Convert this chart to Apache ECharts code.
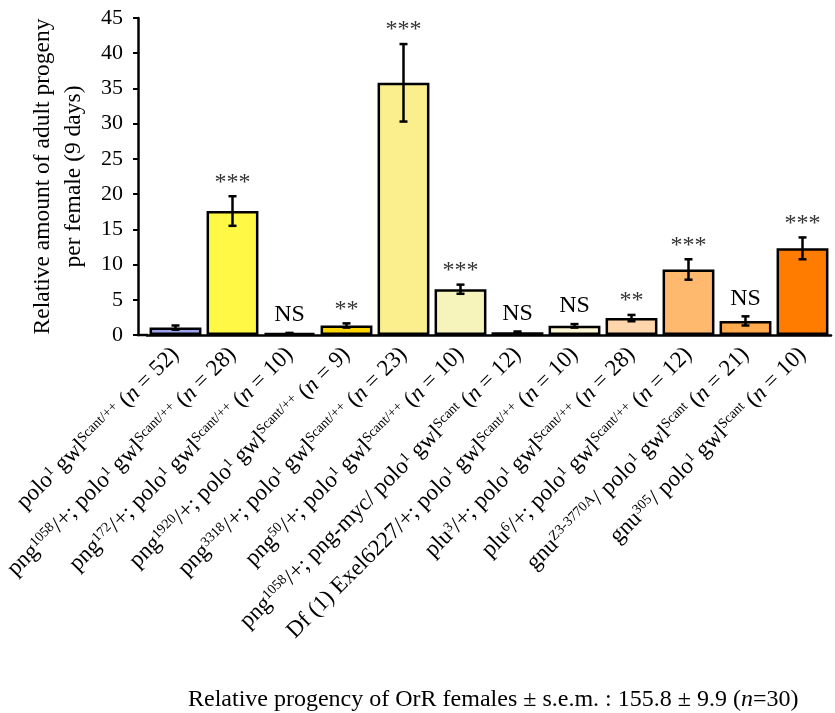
<!DOCTYPE html>
<html><head><meta charset="utf-8">
<script src="https://cdn.jsdelivr.net/npm/echarts@6/dist/echarts.min.js"></script>
<style>html,body{margin:0;padding:0;background:#fff}#c{width:835px;height:713px}</style>
</head><body><div id="c"></div>
<script>
const categories = [
 'polo{s|1} gwl{s|Scant/++} ({i|n} = 52)',
 'png{s|1058}/+; polo{s|1} gwl{s|Scant/++} ({i|n} = 28)',
 'png{s|172}/+; polo{s|1} gwl{s|Scant/++} ({i|n} = 10)',
 'png{s|1920}/+; polo{s|1} gwl{s|Scant/++} ({i|n} = 9)',
 'png{s|3318}/+; polo{s|1} gwl{s|Scant/++} ({i|n} = 23)',
 'png{s|50}/+; polo{s|1} gwl{s|Scant/++} ({i|n} = 10)',
 'png{s|1058}/+; png-myc/ polo{s|1} gwl{s|Scant} ({i|n} = 12)',
 'Df (1) Exel6227/+; polo{s|1} gwl{s|Scant/++} ({i|n} = 10)',
 'plu{s|3}/+; polo{s|1} gwl{s|Scant/++} ({i|n} = 28)',
 'plu{s|6}/+; polo{s|1} gwl{s|Scant/++} ({i|n} = 12)',
 'gnu{s|Z3-3770A}/ polo{s|1} gwl{s|Scant} ({i|n} = 21)',
 'gnu{s|305}/ polo{s|1} gwl{s|Scant} ({i|n} = 10)'
];
const values = [1.05, 17.6, 0.25, 1.35, 35.8, 6.5, 0.4, 1.3, 2.4, 9.3, 2.0, 12.3];
const sems   = [0.3, 2.1, 0.05, 0.3, 5.5, 0.65, 0.1, 0.25, 0.45, 1.45, 0.65, 1.55];
const signif = ['', '***', 'NS', '**', '***', '***', 'NS', 'NS', '**', '***', 'NS', '***'];
const colors = ['#9ea5f0', '#fff845', '#ffffff', '#ffd500', '#fbee8c', '#f6f4bb',
                '#ffffff', '#fdf6d2', '#ffd6ab', '#ffb96e', '#ffab4d', '#ff7c00'];
const yTicks = {min: 0, max: 45, interval: 5};
const footnote = 'Relative progency of OrR females ± s.e.m. : 155.8 ± 9.9 ({i|n}=30)';

const FONT = '"Liberation Serif", "Times New Roman", serif';
const chart = echarts.init(document.getElementById('c'), null, {renderer: 'canvas'});
const gridLeft = 147, gridTop = 18, gridBottom = 378;
chart.setOption({
  animation: false,
  backgroundColor: '#fff',
  title: {
    text: footnote, left: 183, top: 683,
    textStyle: {fontFamily: FONT, fontSize: 24, fontWeight: 'normal', color: '#000',
      rich: {i: {fontFamily: FONT, fontSize: 24, fontStyle: 'italic', color: '#000'}}}
  },
  grid: {left: gridLeft, right: 4, top: gridTop, bottom: gridBottom, containLabel: false},
  xAxis: {
    type: 'category', data: categories,
    axisLine: {lineStyle: {color: '#000', width: 2.5}},
    axisTick: {show: false},
    axisLabel: {
      interval: 0, rotate: 45, margin: 16, color: '#000',
      fontFamily: FONT, fontSize: 23,
      rich: {
        s: {fontFamily: FONT, fontSize: 14, verticalAlign: 'top', lineHeight: 14, color: '#000'},
        i: {fontFamily: FONT, fontSize: 23, fontStyle: 'italic', color: '#000'}
      }
    }
  },
  yAxis: {
    type: 'value', min: yTicks.min, max: yTicks.max, interval: yTicks.interval, offset: 9,
    name: 'Relative amount of adult progeny\nper female (9 days)',
    nameLocation: 'middle', nameGap: 49, nameRotate: 90,
    nameTextStyle: {fontFamily: FONT, fontSize: 23.5, color: '#000', lineHeight: 31},
    splitLine: {show: false},
    axisLine: {show: true, lineStyle: {color: '#000', width: 2.5}},
    axisTick: {show: true, inside: false, length: 5, lineStyle: {color: '#000', width: 2}},
    axisLabel: {fontFamily: FONT, fontSize: 22, color: '#000', margin: 15}
  },
  graphic: [{
    type: 'line', z: 10,
    shape: {x1: gridLeft - 10, y1: 713 - gridBottom, x2: gridLeft + 1, y2: 713 - gridBottom},
    style: {stroke: '#000', lineWidth: 2.5}
  }],
  series: [{
    type: 'bar', barCategoryGap: '9%',
    data: values.map((v, i) => ({value: v, itemStyle: {color: colors[i]}})),
    itemStyle: {borderColor: '#000', borderWidth: 2.5}
  }, {
    type: 'custom',
    data: values.map((v, i) => [i, v, sems[i]]),
    renderItem: function (params, api) {
      const i = api.value(0), v = api.value(1), e = api.value(2);
      const top = api.coord([i, v + e]);
      const bot = api.coord([i, v - e]);
      const cx = top[0], w = 4;
      const s = signif[params.dataIndex];
      return {type: 'group', children: [
        {type: 'line', shape: {x1: cx, y1: top[1], x2: cx, y2: bot[1]}, style: {stroke: '#000', lineWidth: 2.5}},
        {type: 'line', shape: {x1: cx - w, y1: top[1], x2: cx + w, y2: top[1]}, style: {stroke: '#000', lineWidth: 2.5}},
        {type: 'line', shape: {x1: cx - w, y1: bot[1], x2: cx + w, y2: bot[1]}, style: {stroke: '#000', lineWidth: 2.5}},
        {type: 'text', x: cx, y: top[1] - (s === 'NS' ? 6 : 2),
          style: {text: s, fontFamily: FONT, fontSize: 24,
            fill: s === 'NS' ? '#000' : '#333', textAlign: 'center', textVerticalAlign: 'bottom'}}
      ]};
    },
    z: 5
  }]
});
</script></body></html>
